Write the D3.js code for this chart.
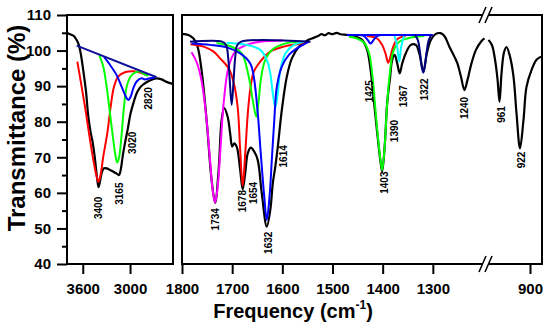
<!DOCTYPE html>
<html><head><meta charset="utf-8">
<script src="https://cdn.jsdelivr.net/npm/d3@7"></script>
<style>
body{margin:0;background:#fff}
svg{display:block}
text{font-family:"Liberation Sans",Arial,sans-serif;font-weight:bold;fill:#000}
</style>
</head><body><svg id="c" width="550" height="331"></svg>
<script>
// ---------------- data ----------------
const yTicks = [40, 50, 60, 70, 80, 90, 100, 110];
const yMinorTicks = [45, 55, 65, 75, 85, 95, 105];
const leftXTicks = [3600, 3000];
const rightXTicksA = [1800, 1700, 1600, 1500, 1400, 1300];
const rightXTicksB = [900];

// measured spectrum, high-frequency window
const spectrumLeft = [[3800,105.0],[3760,104.6],[3720,104.2],[3699,103.7],[3657,102.0],[3626,99.2],[3593,94.3],[3559,88.5],[3530,81.5],[3500,77.0],[3474,74.2],[3445,69.5],[3420,64.5],[3400,61.6],[3380,63.4],[3355,66.0],[3330,66.9],[3297,66.9],[3260,66.5],[3233,66.2],[3200,65.8],[3170,65.4],[3140,65.0],[3125,65.8],[3110,67.6],[3094,70.2],[3065,73.9],[3031,77.7],[2993,82.4],[2950,85.8],[2916,88.0],[2874,89.6],[2830,90.5],[2790,91.1],[2726,91.8],[2663,92.2],[2599,91.9],[2536,91.2],[2455,90.6]];
// measured spectrum, 1800-1200 window
const spectrumRightA = [[1800,104.7],[1787,104.4],[1777,103.4],[1769,101.1],[1761,94.5],[1751,80.5],[1741,63.6],[1734,57.2],[1727,66.4],[1721,80.5],[1716,83.8],[1709,81.4],[1704,76.7],[1700,73.0],[1696,73.9],[1691,73.0],[1684,66.4],[1679,61.0],[1674,65.5],[1669,71.1],[1663,72.7],[1656,71.6],[1649,69.2],[1641,59.9],[1631,50.5],[1624,55.2],[1619,62.7],[1614,67.4],[1609,73.0],[1601,83.3],[1591,92.7],[1581,97.8],[1567,101.1],[1551,102.8],[1541,103.4],[1530,104.0],[1522,104.6],[1515,104.3],[1508,104.9],[1500,104.6],[1492,105.0],[1484,104.6],[1471,104.4],[1457,104.1],[1441,103.0],[1431,100.2],[1424,94.5],[1417,85.2],[1411,77.0],[1405,69.5],[1401,66.0],[1396,73.0],[1391,85.2],[1385,92.7],[1381,97.4],[1376,98.8],[1371,96.4],[1366,93.6],[1361,96.4],[1354,99.2],[1344,101.6],[1334,101.6],[1327,99.2],[1319,94.1],[1312,99.2],[1304,103.0],[1294,104.7],[1285,104.9],[1277,104.1],[1267,101.1],[1257,98.3],[1251,96.4],[1244,92.7],[1237,88.9],[1231,91.7],[1223,96.4],[1214,100.2],[1204,102.5],[1197,103.4]];
// measured spectrum, 990-880 window
const spectrumRightB = [[983,103.0],[976,101.5],[970,97.5],[965,92.0],[961,85.6],[957,93.5],[952,99.5],[947,101.0],[940,98.3],[933,92.7],[927,82.4],[920,72.5],[913,80.5],[907,89.8],[897,94.5],[887,97.4],[878,98.3]];

// fitted components, high-frequency window
const fitLeftBaseline = [[3677,101.4],[2663,92.5]];
const fitLeft3400 = [[3669,96.9],[3614,89.8],[3559,82.4],[3508,74.9],[3458,68.3],[3424,64.6],[3400,63.1],[3376,64.8],[3340,70.2],[3289,76.7],[3246,84.2],[3204,89.8],[3150,92.7],[3065,93.9],[2959,94.2],[2874,93.8],[2790,93.1]];
const fitLeft3165 = [[3390,98.7],[3340,95.5],[3297,89.8],[3255,82.4],[3213,74.9],[3183,70.2],[3162,68.5],[3137,70.2],[3106,76.7],[3077,84.2],[3043,89.8],[2993,92.7],[2938,93.8],[2874,94.1],[2824,93.4],[2769,92.9]];
const fitLeft3020 = [[3330,98.2],[3255,96.0],[3170,93.1],[3106,89.8],[3052,87.0],[3023,86.1],[2993,87.0],[2959,89.4],[2916,91.3],[2853,92.2],[2811,91.9],[2748,92.2],[2684,92.4]];

// fitted components, 1800-1500 region
const fit1734 = [[1781,99.5],[1771,96.8],[1761,91.5],[1751,80.5],[1744,69.0],[1739,61.0],[1734,57.2],[1729,61.5],[1724,71.1],[1717,85.2],[1707,95.5],[1694,99.7],[1671,101.6],[1644,102.5],[1600,102.8]];
const fit1700 = [[1784,102.5],[1720,102.5],[1712,101.5],[1708,98.0],[1705,92.0],[1701,84.7],[1697,92.0],[1694,98.0],[1690,101.5],[1682,102.5],[1544,102.5]];
const fit1678 = [[1783,101.8],[1757,101.1],[1737,99.7],[1724,97.8],[1707,95.0],[1697,91.0],[1689,84.0],[1684,72.0],[1679,62.0],[1674,71.0],[1669,82.0],[1664,89.0],[1657,94.0],[1644,96.9],[1624,99.7],[1597,101.1],[1571,101.8],[1551,102.2]];
const fit1654 = [[1731,102.1],[1700,101.0],[1681,99.2],[1667,92.7],[1659,86.1],[1652,81.4],[1647,86.1],[1643,91.7],[1634,97.4],[1617,100.6],[1584,102.3],[1557,102.5]];
const fit1632 = [[1781,102.0],[1744,101.6],[1711,100.9],[1684,99.2],[1664,96.4],[1657,92.7],[1649,82.4],[1643,71.1],[1636,58.9],[1631,52.4],[1625,59.9],[1621,69.2],[1616,80.5],[1611,89.8],[1601,95.5],[1587,98.8],[1571,100.6],[1554,102.0],[1547,102.5]];
const fit1614 = [[1711,102.2],[1671,101.6],[1644,100.2],[1631,97.4],[1624,93.6],[1619,88.0],[1614,84.0],[1609,88.0],[1604,94.5],[1594,99.2],[1577,101.6],[1557,102.5]];

// fitted components, 1500-1300 region
const fit1400Baseline = [[1472,104.4],[1300,104.4]];
const fit1425 = [[1445,104.4],[1436,104.0],[1430,103.0],[1424,102.0],[1418,103.0],[1412,104.0],[1403,104.4]];
const fit1403 = [[1467,103.9],[1451,103.4],[1437,102.2],[1427,99.2],[1421,93.6],[1416,86.1],[1411,78.0],[1405,70.0],[1401,66.4],[1396,73.0],[1391,85.2],[1385,94.5],[1379,99.7],[1367,102.5],[1351,103.4],[1331,103.9],[1317,104.1]];
const fit1390 = [[1431,104.1],[1411,103.4],[1401,101.6],[1394,99.0],[1389,96.6],[1384,98.5],[1381,100.2],[1371,103.2],[1354,104.1]];
const fit1367 = [[1377,104.4],[1372,102.0],[1367,96.9],[1363,101.1],[1357,104.4]];
const fit1322 = [[1336,104.4],[1330,103.0],[1326,100.0],[1322,95.5],[1319,93.8],[1316,95.5],[1312,100.0],[1308,103.0],[1303,104.4]];

// peak labels: [text, frequency, transmittance at top of label]
const peakLabelsLeft = [["3400",3397,58.9],["3165",3128,62.9],["3020",2973,77.2],["2820",2763,89.7]];
const peakLabelsA = [["1734",1733,55.7],["1678",1680,60.8],["1654",1657,63.1],["1632",1627,49.1],["1614",1597,73.4],["1425",1426,91.7],["1403",1397,66.0],["1390",1376,80.5],["1367",1358,90.3],["1322",1316,92.2],["1240",1236,87.0]];
const peakLabelsB = [["961",958,84.4],["922",918,71.6]];

// ---------------- drawing ----------------
const svg = d3.select("#c");
const TOP = 15, BOT = 264;
const L0 = 67, L1 = 173, R0 = 182, R1 = 542, BRK = 486;

const y = d3.scaleLinear().domain([40,110]).range([BOT,TOP]);
const xL = d3.scaleLinear().domain([3800,2455]).range([L0,L1]);
const xA = d3.scaleLinear().domain([1800,1200]).range([R0,483]);
const xB = d3.scaleLinear().domain([992,876]).range([484,R1]);

const defs = svg.append("defs");
function clip(id,x0,x1){
  defs.append("clipPath").attr("id",id).append("rect")
    .attr("x",x0).attr("y",TOP).attr("width",x1-x0).attr("height",BOT-TOP);
}
clip("cl",L0,L1); clip("ca",R0,BRK); clip("cb",BRK,R1);

function drawLine(g, xs, data, color, w){
  const line = d3.line().x(d=>xs(d[0])).y(d=>y(d[1])).curve(d3.curveCatmullRom.alpha(0.5));
  g.append("path").datum(data).attr("d",line).attr("fill","none")
    .attr("stroke",color).attr("stroke-width",w).attr("stroke-linejoin","round");
}

const gL = svg.append("g").attr("clip-path","url(#cl)");
const gA = svg.append("g").attr("clip-path","url(#ca)");
const gB = svg.append("g").attr("clip-path","url(#cb)");

const RED="#ff0000", GREEN="#00ff00", BLUE="#0000ff", NAVY="#00007f", MAG="#ff00ff", CYAN="#00ffff";

drawLine(gL, xL, spectrumLeft, "#000", 2.2);
drawLine(gL, xL, fitLeft3400, RED, 2);
drawLine(gL, xL, fitLeft3165, GREEN, 2);
drawLine(gL, xL, fitLeft3020, BLUE, 2);
drawLine(gL, xL, fitLeftBaseline, "#10109a", 2);

drawLine(gA, xA, spectrumRightA, "#000", 2.2);
drawLine(gA, xA, fit1734, MAG, 2);
drawLine(gA, xA, fit1678, RED, 2);
drawLine(gA, xA, fit1654, GREEN, 2);
drawLine(gA, xA, fit1614, CYAN, 2);
drawLine(gA, xA, fit1632, BLUE, 2);
drawLine(gA, xA, fit1700, NAVY, 2);
drawLine(gA, xA, fit1390, RED, 2);
drawLine(gA, xA, fit1403, GREEN, 2);
drawLine(gA, xA, fit1367, CYAN, 2);
drawLine(gA, xA, fit1425, BLUE, 2);
drawLine(gA, xA, fit1400Baseline, BLUE, 2);
drawLine(gA, xA, fit1322, NAVY, 2);

drawLine(gB, xB, spectrumRightB, "#000", 2.2);

// frames
svg.append("rect").attr("x",L0).attr("y",TOP).attr("width",L1-L0).attr("height",BOT-TOP)
  .attr("fill","none").attr("stroke","#000").attr("stroke-width",2);
svg.append("rect").attr("x",R0).attr("y",TOP).attr("width",R1-R0).attr("height",BOT-TOP)
  .attr("fill","none").attr("stroke","#000").attr("stroke-width",2);

// axes
function styleAxis(g, fs){
  g.select(".domain").remove();
  g.selectAll(".tick line").attr("stroke","#000").attr("stroke-width",2);
  g.selectAll(".tick text").attr("font-size",fs).attr("font-family","Liberation Sans, Arial, sans-serif").attr("font-weight","bold").attr("fill","#000");
}
const ayMinor = svg.append("g").attr("transform",`translate(${L0},0)`)
  .call(d3.axisLeft(y).tickValues(yMinorTicks).tickSize(5).tickFormat(""));
styleAxis(ayMinor, 15);
const ay = svg.append("g").attr("transform",`translate(${L0},0)`)
  .call(d3.axisLeft(y).tickValues(yTicks).tickSize(10).tickPadding(6));
styleAxis(ay, 15);

function bottomAxis(xs, ticks){
  const g = svg.append("g").attr("transform",`translate(0,${BOT})`)
    .call(d3.axisBottom(xs).tickValues(ticks).tickSize(10).tickPadding(9).tickFormat(d3.format("d")));
  styleAxis(g, 15);
}
bottomAxis(xL, leftXTicks);
bottomAxis(xA, rightXTicksA);
bottomAxis(xB, rightXTicksB);

// axis breaks
[TOP, BOT].forEach(yy=>{
  svg.append("rect").attr("x",BRK-3).attr("y",yy-2).attr("width",6).attr("height",4).attr("fill","#fff");
  [-3,3].forEach(dx=>{
    svg.append("line").attr("x1",BRK+dx-4).attr("y1",yy+8).attr("x2",BRK+dx+3).attr("y2",yy-8)
      .attr("stroke","#000").attr("stroke-width",1.6);
  });
});

// peak labels
function labels(list, xs){
  list.forEach(([t,f,v])=>{
    svg.append("text").attr("transform",`translate(${xs(f)},${y(v)}) rotate(-90)`)
      .attr("text-anchor","end").attr("dy","0.35em").attr("font-size",10).text(t);
  });
}
labels(peakLabelsLeft, xL);
labels(peakLabelsA, xA);
labels(peakLabelsB, xB);

// titles
svg.append("text").attr("transform","translate(17,128) rotate(-90)")
  .attr("text-anchor","middle").attr("dy","0.35em").attr("font-size",24).text("Transmittance (%)");
const xt = svg.append("text").attr("x",293).attr("y",318).attr("text-anchor","middle").attr("font-size",20);
xt.append("tspan").text("Frequency (cm");
xt.append("tspan").attr("font-size",12).attr("dy",-9).text("-1");
xt.append("tspan").attr("dy",9).text(")");
</script></body></html>
